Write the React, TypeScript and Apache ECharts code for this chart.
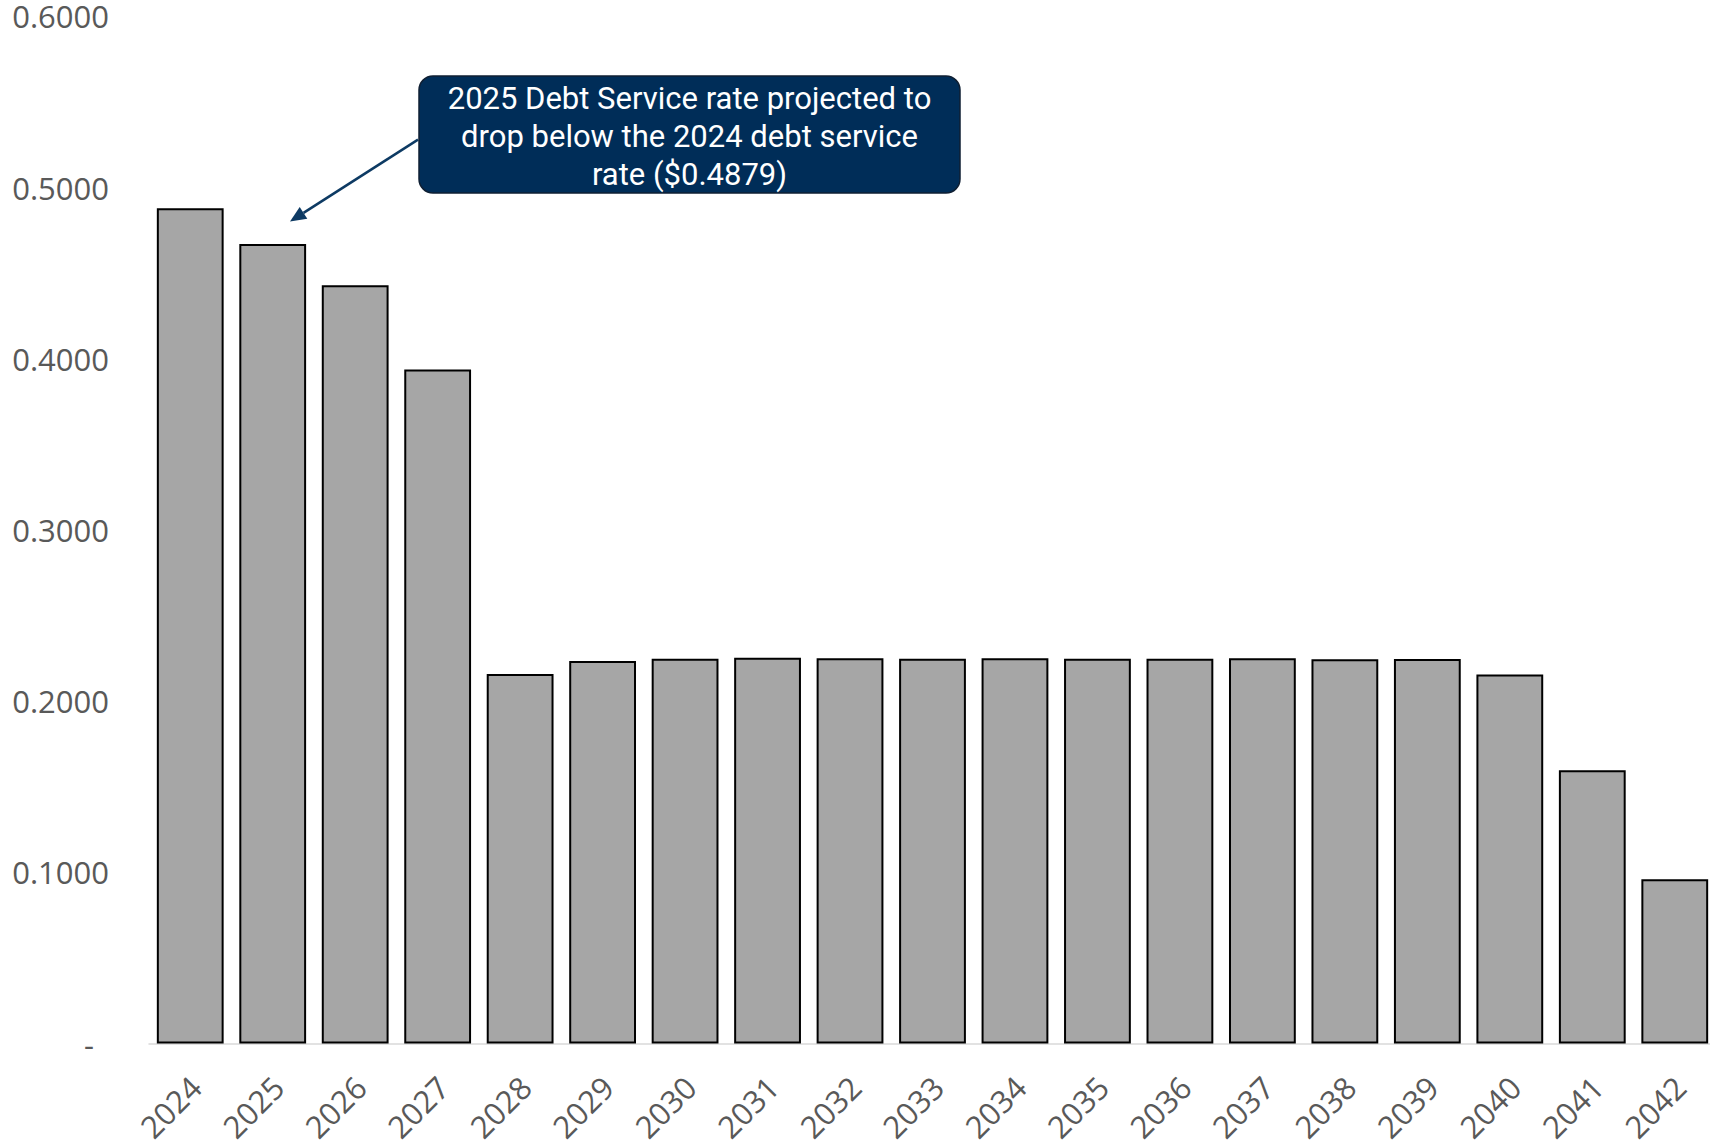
import React, { useEffect, useRef } from "react";
import * as echarts from "echarts";

const years = ["2024","2025","2026","2027","2028","2029","2030","2031","2032","2033","2034","2035","2036","2037","2038","2039","2040","2041","2042"];
const debtServiceRate = [0.4879,0.4671,0.4429,0.3938,0.2158,0.2234,0.2247,0.2254,0.2251,0.2247,0.2251,0.2248,0.2247,0.2251,0.2245,0.2246,0.2155,0.1596,0.0959];
const yTicks = { min: 0, max: 0.6, interval: 0.1 };
const annotationLines = [
  "2025 Debt Service rate projected to",
  "drop below the 2024 debt service",
  "rate ($0.4879)",
];

export default function App() {
  const ref = useRef<HTMLDivElement>(null);
  useEffect(() => {
    if (!ref.current) return;
    const chart = echarts.init(ref.current, undefined, { renderer: "svg" });
    const labelColor = "#595959";
    const tickFont = "Open Sans";
    chart.setOption({
      animation: false,
      backgroundColor: "#ffffff",
      grid: { left: 149, right: -6, top: 16.4, bottom: 101.5, outerBoundsMode: "none", containLabel: false },
      xAxis: {
        type: "category",
        data: years,
        axisLine: { show: true, lineStyle: { color: "#d9d9d9", width: 1.5 } },
        axisTick: { show: false },
        axisLabel: {
          rotate: 45,
          margin: 33,
          verticalAlign: "top",
          lineHeight: 15,
          color: labelColor,
          fontFamily: tickFont,
          fontSize: 31,
          interval: 0,
        },
      },
      yAxis: {
        type: "value",
        min: yTicks.min,
        max: yTicks.max,
        interval: yTicks.interval,
        splitLine: { show: false },
        axisLine: { show: false },
        axisTick: { show: false },
        axisLabel: {
          margin: 40,
          color: labelColor,
          fontFamily: tickFont,
          fontSize: 31,
          formatter: (v: number) => (Math.abs(v) < 1e-9 ? "{d|-}" : v.toFixed(4)),
          rich: {
            d: { padding: [0, 15, 0, 0], color: labelColor, fontFamily: tickFont, fontSize: 31 },
          },
        },
      },
      series: [
        {
          type: "bar",
          data: debtServiceRate,
          barCategoryGap: "19%",
          itemStyle: { color: "#a6a6a6", borderColor: "#000000", borderWidth: 2 },
        },
      ],
      graphic: [
        {
          type: "line",
          shape: { x1: 418, y1: 139.6, x2: 303.5, y2: 212.9 },
          style: { stroke: "#0d3a63", lineWidth: 2.5 },
        },
        {
          type: "polygon",
          shape: { points: [[290, 221.5], [307.3, 218.8], [299.7, 207.0]] },
          style: { fill: "#0d3a63" },
        },
        {
          type: "rect",
          shape: { x: 419, y: 76, width: 541, height: 117, r: 14 },
          style: { fill: "#002d58", stroke: "#0f1f33", lineWidth: 1.5 },
        },
        {
          type: "text",
          x: 689.5,
          y: 136,
          style: {
            text: annotationLines.join("\n"),
            fill: "#ffffff",
            fontFamily: "Roboto",
            fontSize: 31,
            lineHeight: 38,
            textAlign: "center",
            textVerticalAlign: "middle",
            align: "center",
            verticalAlign: "middle",
          },
        },
      ],
    });
    return () => chart.dispose();
  }, []);
  return (
    <div
      ref={ref}
      style={{ position: "fixed", left: 0, top: 0, width: 1710, height: 1145 }}
    />
  );
}
